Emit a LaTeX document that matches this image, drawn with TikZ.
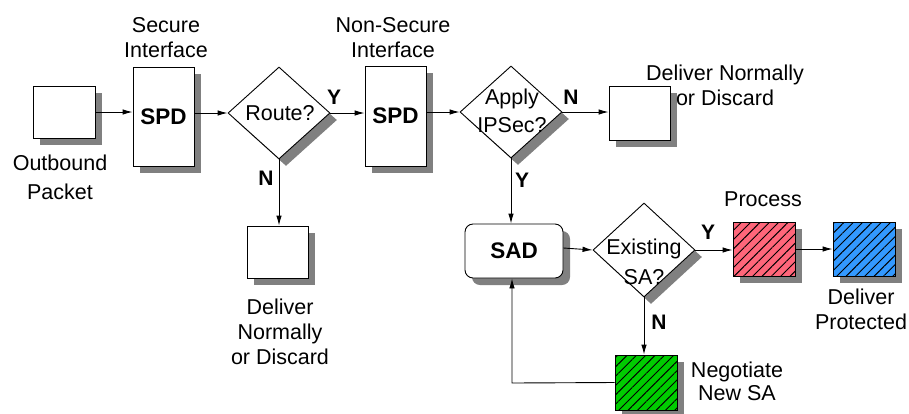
\documentclass[tikz,border=0pt]{standalone}
\usepackage{fontspec}
\setmainfont{Liberation Sans}
\usetikzlibrary{shapes.geometric,shadows,patterns.meta,arrows.meta}
\definecolor{shadowgray}{gray}{0.5}
\definecolor{hred}{RGB}{255,102,122}
\definecolor{hblue}{RGB}{51,153,255}
\definecolor{hgreen}{RGB}{0,204,0}
\begin{document}
\begin{tikzpicture}[x=1pt,y=-1pt,
  dshadow/.style={drop shadow={shadow xshift=7pt,shadow yshift=-7pt,opacity=1,fill=shadowgray}},
  box/.style={draw,line width=0.9pt,fill=white,rectangle,inner sep=0pt,dshadow},
  decision/.style={draw,line width=0.9pt,fill=white,diamond,inner sep=0pt,dshadow},
  hatch/.style={pattern={Lines[angle=45,distance=6.6pt,line width=0.9pt]},pattern color=black},
  txt/.style={font=\fontsize{21.5}{25}\selectfont,align=center,inner sep=0pt},
  lbl/.style={font=\fontsize{21}{25}\selectfont\bfseries,inner sep=0pt},
  conn/.style={line width=0.9pt,-{Latex[length=10pt,width=5.5pt]}}
]
\useasboundingbox (0,0) rectangle (909,413);

% boxes
\node[box,minimum width=62pt,minimum height=52pt] (outb) at (64,112) {};
\node[box,minimum width=61pt,minimum height=99pt,txt,font=\fontsize{22.5}{25}\selectfont\bfseries] (spd1) at (163.5,116.5) {SPD};
\node[decision,minimum width=102pt,minimum height=92pt] (route) at (279,113) {};
\node[box,minimum width=61pt,minimum height=100pt,txt,font=\fontsize{22.5}{25}\selectfont\bfseries] (spd2) at (395.5,116) {SPD};
\node[decision,minimum width=102pt,minimum height=92pt] (apply) at (511,112) {};
\node[box,minimum width=61pt,minimum height=54pt] (dn) at (639.5,113) {};
\node[box,minimum width=61pt,minimum height=52pt] (rn) at (277.5,252) {};
\node[box,rounded corners=8pt,minimum width=98pt,minimum height=54pt,txt,font=\fontsize{22.5}{25}\selectfont\bfseries] (sad) at (514,251) {SAD};
\node[decision,minimum width=102pt,minimum height=94pt] (exist) at (644,250) {};
\node[box,fill=hred,postaction={hatch},minimum width=62pt,minimum height=54pt] (proc) at (764,249) {};
\node[box,fill=hblue,postaction={hatch},minimum width=62pt,minimum height=54pt] (dprot) at (864,249) {};
\node[box,fill=hgreen,postaction={hatch},minimum width=62pt,minimum height=55pt] (nego) at (646,382.5) {};

% texts
\node[txt] (t1) at (166,37.5) {Secure\\Interface};
\node[txt] (t2) at (393,37.5) {Non-Secure\\Interface};
\node[txt] (t3) at (60,177) {Outbound\\[4pt]Packet};
\node[txt] (t4) at (280,113) {Route?};
\node[txt] (t5) at (512,111) {Apply\\[3pt]IPSec?};
\node[txt] (t6) at (725,85) {Deliver Normally\\or Discard};
\node[txt] (t7) at (280,332) {Deliver\\Normally\\or Discard};
\node[txt] (t8) at (763,199) {Process};
\node[txt] (t9) at (861,309) {Deliver\\Protected};
\node[txt] (t10) at (737,381.5) {Negotiate\\[-2pt]New SA};
\node[txt] (t11) at (644,262) {Existing\\[5pt]SA?};

% Y/N labels
\node[lbl] (y1) at (334,97) {Y};
\node[lbl] (n1) at (266,178) {N};
\node[lbl] (n2) at (571,97) {N};
\node[lbl] (y2) at (522,180) {Y};
\node[lbl] (y3) at (708,232) {Y};
\node[lbl] (n3) at (659,322) {N};

% connectors
\draw[conn] (outb.east) -- (spd1.west |- outb.east);
\draw[conn] (spd1.east |- route.west) -- (route.west);
\draw[conn] (route.east) -- (spd2.west |- route.east);
\draw[conn] (spd2.east |- apply.west) -- (apply.west);
\draw[conn] (apply.east) -- (dn.west |- apply.east);
\draw[conn] (route.south) -- (route.south |- rn.north);
\draw[conn] (apply.south) -- (apply.south |- sad.north);
\draw[conn] ([yshift=3pt]sad.east) -- (exist.west);
\draw[conn] (exist.east) -- (proc.west |- exist.east);
\draw[conn] (proc.east) -- (dprot.west);
\draw[conn] (exist.south) -- (exist.south |- nego.north);
\coordinate (corner) at (512,383);
\draw[conn] (nego.west) -- (corner) -- (corner |- sad.south);
\end{tikzpicture}
\end{document}
